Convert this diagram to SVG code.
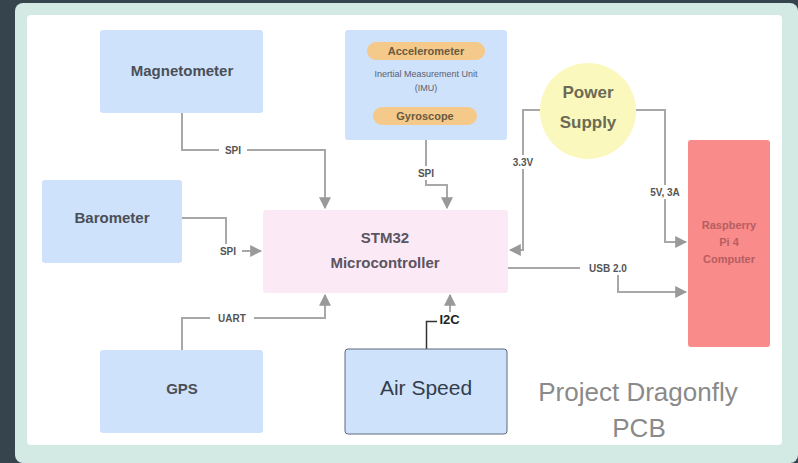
<svg xmlns="http://www.w3.org/2000/svg" width="798" height="463" viewBox="0 0 798 463">
<defs>
<style>
.node{fill:#cfe2fb;}
.ntext{font-family:"Liberation Sans",Arial,sans-serif;font-size:15px;fill:#4a4f57;text-anchor:middle;font-weight:bold;}
.conn{fill:none;stroke:#a8a8a8;stroke-width:2;}
.lbl{font-family:"Liberation Sans",Arial,sans-serif;font-size:10px;font-weight:bold;fill:#555;text-anchor:middle;}
.lblbg{fill:#ffffff;}
.small{font-family:"Liberation Sans",Arial,sans-serif;font-size:9px;fill:#5a6070;text-anchor:middle;}
.pill{font-family:"Liberation Sans",Arial,sans-serif;font-size:11px;font-weight:bold;fill:#6a5a40;text-anchor:middle;}
.rtext{font-family:"Liberation Sans",Arial,sans-serif;font-size:11px;font-weight:bold;fill:#b65e60;text-anchor:middle;}
</style>
<marker id="arr" viewBox="0 0 10 10" refX="9" refY="5" markerWidth="6" markerHeight="6" orient="auto">
<path d="M0,0 L10,5 L0,10 z" fill="#999"/>
</marker>
</defs>
<rect x="0" y="0" width="798" height="463" fill="#35444d"/>
<rect x="15" y="3" width="783" height="460" rx="8" fill="#d3e9e3"/>
<rect x="27" y="15" width="755" height="430" rx="4" fill="#ffffff"/>

<g id="connectors">
<path class="conn" d="M182,113 V150 H325 V208" marker-end="url(#arr)"/>
<path class="conn" d="M182,218 H226 V251 H261" marker-end="url(#arr)"/>
<path class="conn" d="M426,140 V185 H447 V208" marker-end="url(#arr)"/>
<path class="conn" d="M540,110 H523 V250 H510" marker-end="url(#arr)"/>
<path class="conn" d="M636,110 H665 V242 H686" marker-end="url(#arr)"/>
<path class="conn" d="M508,268 H618 V292 H686" marker-end="url(#arr)"/>
<path class="conn" d="M182,350 V318 H325 V295" marker-end="url(#arr)"/>
<path class="conn" d="M450,312 V295" marker-end="url(#arr)"/>
<path d="M426.5,349 V321.5 H437" fill="none" stroke="#333" stroke-width="1.5"/>
<rect class="lblbg" x="219" y="143" width="28" height="14"/>
<text class="lbl" x="233" y="154">SPI</text>
<rect class="lblbg" x="214" y="244" width="28" height="14"/>
<text class="lbl" x="228" y="255">SPI</text>
<rect class="lblbg" x="412" y="166" width="28" height="14"/>
<text class="lbl" x="426" y="177">SPI</text>
<rect class="lblbg" x="508" y="155" width="30" height="14"/>
<text class="lbl" x="523" y="166">3.3V</text>
<rect class="lblbg" x="642" y="185" width="46" height="14"/>
<text class="lbl" x="665" y="196">5V, 3A</text>
<rect class="lblbg" x="580" y="261" width="56" height="14"/>
<text class="lbl" x="608" y="272">USB 2.0</text>
<rect class="lblbg" x="210" y="311" width="44" height="14"/>
<text class="lbl" x="232" y="322">UART</text>
<text x="449.5" y="323.5" font-family="Liberation Sans,Arial,sans-serif" font-size="13" font-weight="bold" fill="#222" text-anchor="middle">I2C</text>
</g>

<g id="magnetometer">
<rect class="node" x="100" y="30" width="163" height="83" rx="3"/>
<text class="ntext" x="182" y="76">Magnetometer</text>
</g>
<g id="barometer">
<rect class="node" x="42" y="180" width="140" height="83" rx="3"/>
<text class="ntext" x="112" y="223">Barometer</text>
</g>
<g id="gps">
<rect class="node" x="100" y="350" width="163" height="83" rx="3"/>
<text class="ntext" x="182" y="394">GPS</text>
</g>
<g id="imu">
<rect class="node" x="345" y="30" width="162" height="110" rx="3"/>
<rect x="367" y="42" width="118" height="18" rx="9" fill="#f4c98a"/>
<text class="pill" x="426" y="55">Accelerometer</text>
<text class="small" x="426" y="77">Inertial Measurement Unit</text>
<text class="small" x="426" y="91">(IMU)</text>
<rect x="373" y="107" width="104" height="18" rx="9" fill="#f4c98a"/>
<text class="pill" x="425" y="120">Gyroscope</text>
</g>
<g id="power">
<circle cx="588" cy="111" r="48" fill="#fbf8bd"/>
<text x="588" y="98" font-family="Liberation Sans,Arial,sans-serif" font-size="17" font-weight="bold" fill="#6b6b55" text-anchor="middle">Power</text>
<text x="588" y="128" font-family="Liberation Sans,Arial,sans-serif" font-size="17" font-weight="bold" fill="#6b6b55" text-anchor="middle">Supply</text>
</g>
<g id="microcontroller">
<rect x="263" y="210" width="245" height="83" rx="3" fill="#fce9f6"/>
<text x="385" y="243" font-family="Liberation Sans,Arial,sans-serif" font-size="15" font-weight="bold" fill="#5a5560" text-anchor="middle">STM32</text>
<text x="385" y="268" font-family="Liberation Sans,Arial,sans-serif" font-size="15" font-weight="bold" fill="#5a5560" text-anchor="middle">Microcontroller</text>
</g>
<g id="computer">
<rect x="688" y="140" width="82" height="207" rx="3" fill="#f98b8b"/>
<text class="rtext" x="729" y="229">Raspberry</text>
<text class="rtext" x="729" y="246">Pi 4</text>
<text class="rtext" x="729" y="263">Computer</text>
</g>
<g id="airspeed">
<rect x="345" y="349" width="162" height="85" rx="3" fill="#cfe2fb" stroke="#5f6b7a" stroke-width="1"/>
<text x="426" y="395" font-family="Liberation Sans,Arial,sans-serif" font-size="21" fill="#333d4a" text-anchor="middle">Air Speed</text>
</g>
<g id="title">
<text x="638" y="401" font-family="Liberation Sans,Arial,sans-serif" font-size="26" fill="#8a8a8a" text-anchor="middle">Project Dragonfly</text>
<text x="639" y="437" font-family="Liberation Sans,Arial,sans-serif" font-size="26" fill="#8a8a8a" text-anchor="middle">PCB</text>
</g>
</svg>
